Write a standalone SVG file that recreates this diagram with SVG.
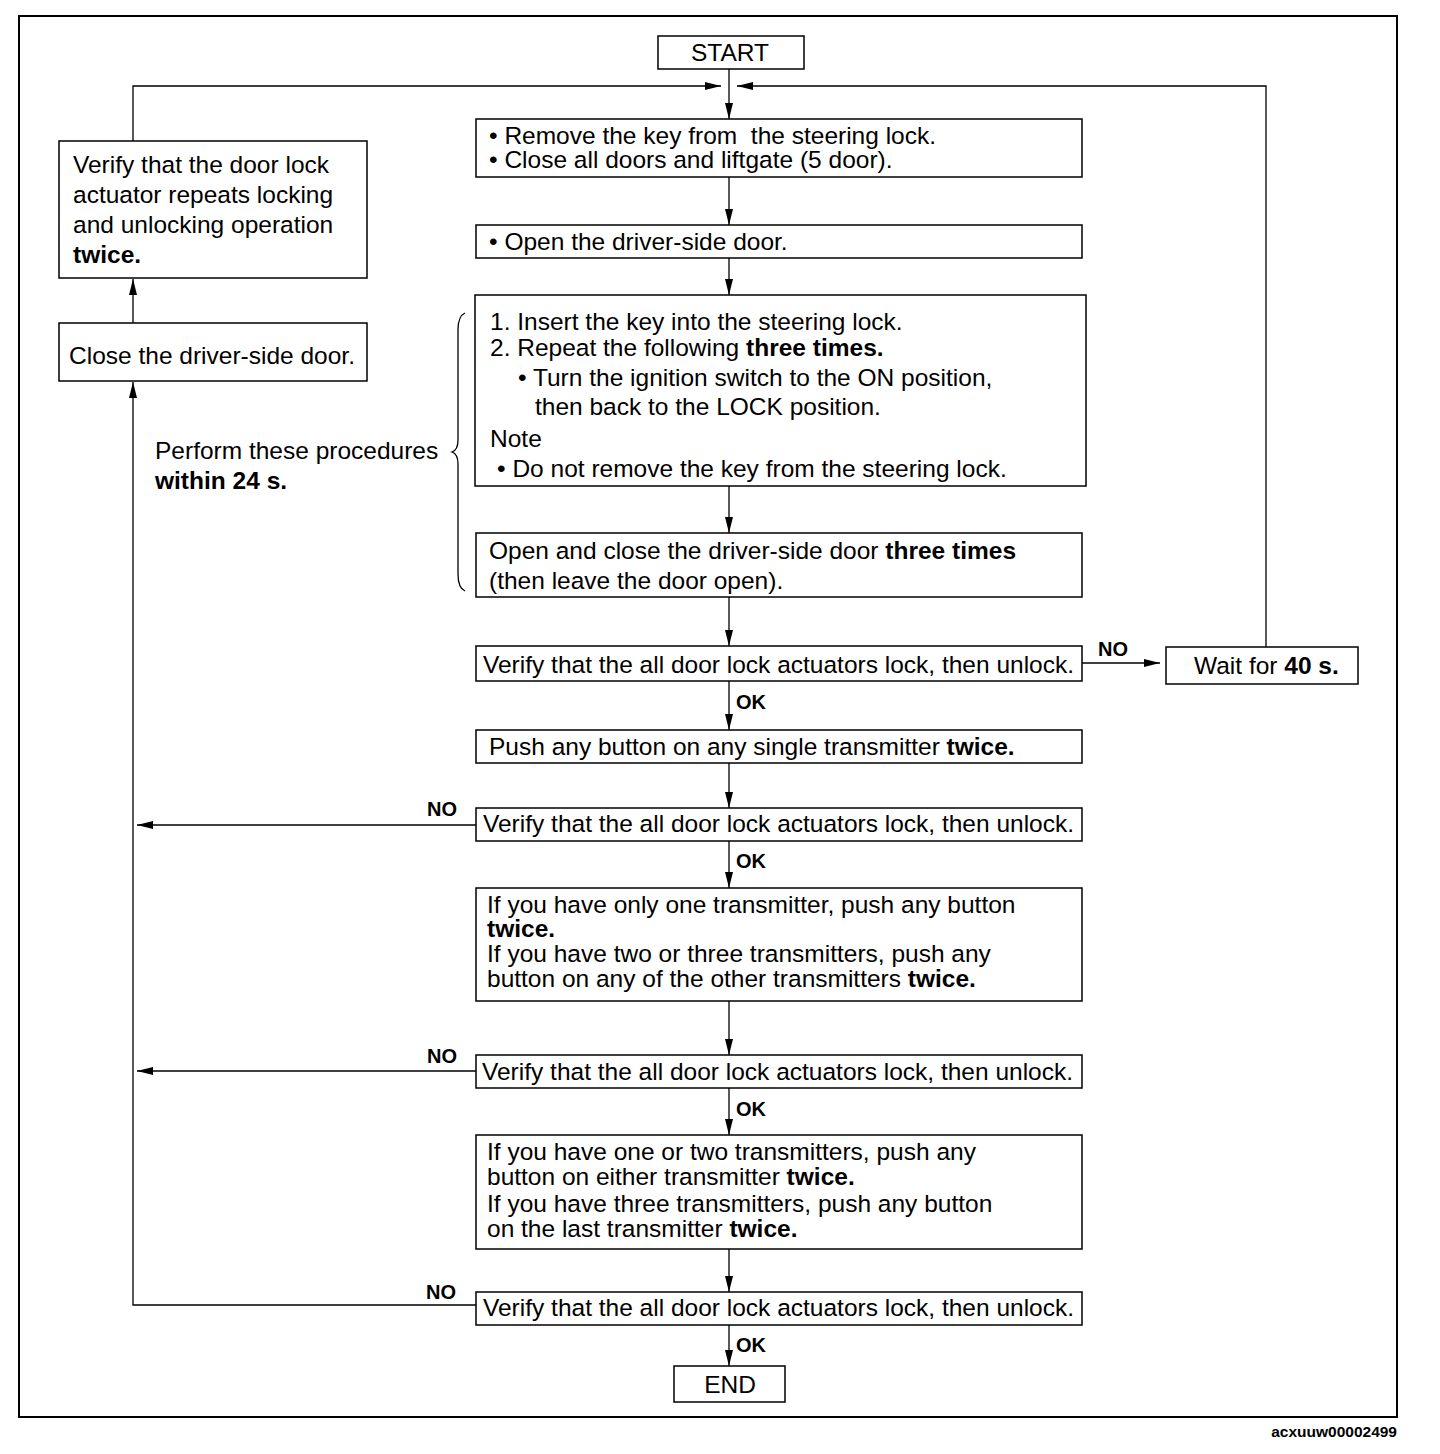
<svg xmlns="http://www.w3.org/2000/svg" width="1440" height="1454" viewBox="0 0 1440 1454">
<defs>
<marker id="ah" viewBox="0 0 16 8" refX="16" refY="4" markerWidth="16" markerHeight="8" markerUnits="userSpaceOnUse" orient="auto">
<path d="M0,0 L16,4 L0,8 Z" fill="#000"/>
</marker>
<style>
.box{fill:#fff;stroke:#000;stroke-width:1.5}
.ln{fill:none;stroke:#000;stroke-width:1.3}
.t{font-family:"Liberation Sans",Arial,sans-serif;font-size:24.5px;fill:#000;white-space:pre}
.b{font-weight:bold}
.lbl{font-family:"Liberation Sans",Arial,sans-serif;font-size:20px;font-weight:bold;fill:#000}
</style>
</defs>
<rect x="0" y="0" width="1440" height="1454" fill="#fff"/>
<rect x="19" y="16" width="1378" height="1401" fill="none" stroke="#000" stroke-width="2"/>

<g id="connectors">
<line class="ln" x1="729" y1="69" x2="729" y2="119" marker-end="url(#ah)"/>
<polyline class="ln" points="133,141 133,86 721,86" marker-end="url(#ah)"/>
<polyline class="ln" points="1266,647 1266,86 737,86" marker-end="url(#ah)"/>
<line class="ln" x1="729" y1="177" x2="729" y2="225" marker-end="url(#ah)"/>
<line class="ln" x1="729" y1="258" x2="729" y2="295" marker-end="url(#ah)"/>
<line class="ln" x1="729" y1="486" x2="729" y2="533" marker-end="url(#ah)"/>
<line class="ln" x1="729" y1="597" x2="729" y2="646" marker-end="url(#ah)"/>
<line class="ln" x1="1082" y1="663" x2="1160" y2="663" marker-end="url(#ah)"/>
<line class="ln" x1="729" y1="681" x2="729" y2="730" marker-end="url(#ah)"/>
<line class="ln" x1="729" y1="763" x2="729" y2="808" marker-end="url(#ah)"/>
<line class="ln" x1="476" y1="825" x2="137" y2="825" marker-end="url(#ah)"/>
<line class="ln" x1="729" y1="841" x2="729" y2="888" marker-end="url(#ah)"/>
<line class="ln" x1="729" y1="1001" x2="729" y2="1055" marker-end="url(#ah)"/>
<line class="ln" x1="476" y1="1071" x2="137" y2="1071" marker-end="url(#ah)"/>
<line class="ln" x1="729" y1="1088" x2="729" y2="1135" marker-end="url(#ah)"/>
<line class="ln" x1="729" y1="1249" x2="729" y2="1292" marker-end="url(#ah)"/>
<polyline class="ln" points="476,1305 133,1305 133,382" marker-end="url(#ah)"/>
<line class="ln" x1="729" y1="1325" x2="729" y2="1366" marker-end="url(#ah)"/>
<line class="ln" x1="133" y1="323" x2="133" y2="279" marker-end="url(#ah)"/>
<text class="lbl" x="1098" y="656">NO</text>
<text class="lbl" x="736" y="709">OK</text>
<text class="lbl" x="427" y="816">NO</text>
<text class="lbl" x="736" y="868">OK</text>
<text class="lbl" x="427" y="1063">NO</text>
<text class="lbl" x="736" y="1116">OK</text>
<text class="lbl" x="426" y="1299">NO</text>
<text class="lbl" x="736" y="1352">OK</text>
</g>

<g id="start">
<rect class="box" x="658" y="36" width="146" height="33"/>
<text class="t" x="730" y="61" text-anchor="middle">START</text>
</g>

<g id="step1">
<rect class="box" x="476" y="119" width="606" height="58"/>
<text class="t" x="489" y="144">• Remove the key from  the steering lock.</text>
<text class="t" x="489" y="168">• Close all doors and liftgate (5 door).</text>
</g>

<g id="step2">
<rect class="box" x="476" y="225" width="606" height="33"/>
<text class="t" x="489" y="250">• Open the driver-side door.</text>
</g>

<g id="step3">
<rect class="box" x="475" y="295" width="611" height="191"/>
<text class="t" x="490" y="330">1. Insert the key into the steering lock.</text>
<text class="t" x="490" y="356">2. Repeat the following <tspan class="b">three times.</tspan></text>
<text class="t" x="518" y="386">• Turn the ignition switch to the ON position,</text>
<text class="t" x="535" y="415">then back to the LOCK position.</text>
<text class="t" x="490" y="447">Note</text>
<text class="t" x="497" y="477">• Do not remove the key from the steering lock.</text>
</g>

<g id="step4">
<rect class="box" x="476" y="533" width="606" height="64"/>
<text class="t" x="489" y="559">Open and close the driver-side door <tspan class="b">three times</tspan></text>
<text class="t" x="489" y="589">(then leave the door open).</text>
</g>

<g id="brace">
<path class="ln" stroke-width="1.8" d="M465,313 Q458,316 458,330 L458,440 Q458,450 452,452 Q458,454 458,464 L458,574 Q458,588 465,591"/>
<text class="t" x="155" y="459">Perform these procedures</text>
<text class="t b" x="155" y="489">within 24 s.</text>
</g>

<g id="verify1">
<rect class="box" x="476" y="646" width="606" height="35"/>
<text class="t" x="483" y="673">Verify that the all door lock actuators lock, then unlock.</text>
</g>

<g id="wait">
<rect class="box" x="1166" y="647" width="192" height="37"/>
<text class="t" x="1194" y="674">Wait for <tspan class="b">40 s.</tspan></text>
</g>

<g id="push1">
<rect class="box" x="476" y="730" width="606" height="33"/>
<text class="t" x="489" y="755">Push any button on any single transmitter <tspan class="b">twice.</tspan></text>
</g>

<g id="verify2">
<rect class="box" x="476" y="808" width="606" height="33"/>
<text class="t" x="483" y="832">Verify that the all door lock actuators lock, then unlock.</text>
</g>

<g id="push2">
<rect class="box" x="476" y="888" width="606" height="113"/>
<text class="t" x="487" y="913">If you have only one transmitter, push any button</text>
<text class="t b" x="487" y="937">twice.</text>
<text class="t" x="487" y="962">If you have two or three transmitters, push any</text>
<text class="t" x="487" y="987">button on any of the other transmitters <tspan class="b">twice.</tspan></text>
</g>

<g id="verify3">
<rect class="box" x="476" y="1055" width="606" height="33"/>
<text class="t" x="482" y="1080">Verify that the all door lock actuators lock, then unlock.</text>
</g>

<g id="push3">
<rect class="box" x="476" y="1135" width="606" height="114"/>
<text class="t" x="487" y="1160">If you have one or two transmitters, push any</text>
<text class="t" x="487" y="1185">button on either transmitter <tspan class="b">twice.</tspan></text>
<text class="t" x="487" y="1212">If you have three transmitters, push any button</text>
<text class="t" x="487" y="1237">on the last transmitter <tspan class="b">twice.</tspan></text>
</g>

<g id="verify4">
<rect class="box" x="476" y="1292" width="606" height="33"/>
<text class="t" x="483" y="1316">Verify that the all door lock actuators lock, then unlock.</text>
</g>

<g id="end">
<rect class="box" x="674" y="1366" width="111" height="36"/>
<text class="t" x="730" y="1393" text-anchor="middle">END</text>
</g>

<g id="closedoor">
<rect class="box" x="59" y="323" width="308" height="58"/>
<text class="t" x="69" y="364">Close the driver-side door.</text>
</g>

<g id="verifyrepeat">
<rect class="box" x="59" y="141" width="308" height="137"/>
<text class="t" x="73" y="173">Verify that the door lock</text>
<text class="t" x="73" y="203">actuator repeats locking</text>
<text class="t" x="73" y="233">and unlocking operation</text>
<text class="t b" x="73" y="263">twice.</text>
</g>

<text x="1397" y="1437" text-anchor="end" font-family="'Liberation Sans',Arial,sans-serif" font-size="15.5" font-weight="bold">acxuuw00002499</text>
</svg>
